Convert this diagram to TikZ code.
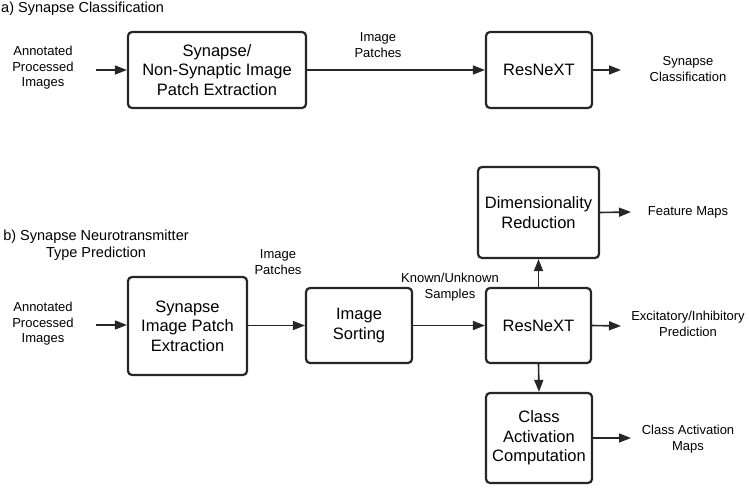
\documentclass[tikz,border=0pt]{standalone}
\usepackage{fontspec}
\setmainfont{Liberation Sans}
\usetikzlibrary{arrows.meta}
\tikzset{
  procbox/.style={draw=black!85, line width=2.2pt, rounded corners=4pt, align=center, inner sep=0pt,
    font=\fontsize{16.5}{19.5}\selectfont},
  lbl/.style={align=center, inner sep=0pt, font=\fontsize{13}{15.5}\selectfont},
  ttl/.style={align=center, inner sep=0pt, font=\fontsize{14.5}{16.5}\selectfont},
  flow/.style={draw=black!85, line width=1.6pt, -{Triangle[length=12pt,width=9pt]}}
}
\begin{document}
\begin{tikzpicture}[x=1pt,y=-1pt]
\useasboundingbox (0,0) rectangle (749,487);
% ---- a) ----
\node[ttl, anchor=west] (ta) at (1,9) {a) Synapse Classification};
\node[lbl] (ina) at (43,68) {Annotated\\Processed\\Images};
\coordinate (ina0) at (96,70);
\node[procbox, minimum width=178pt, minimum height=76pt] (a1) at (217,70) {Synapse/\\Non-Synaptic Image\\Patch Extraction};
\node[procbox, minimum width=106pt, minimum height=76pt] (a2) at (539,70) {ResNeXT};
\node[lbl] (pa) at (378,45) {Image\\Patches};
\coordinate (outa) at (621,70);
\node[lbl] (sca) at (688,69) {Synapse\\Classification};
\draw[flow] (ina0) -- (a1.west);
\draw[flow] (a1.east) -- (a2.west);
\draw[flow] (a2.east) -- (outa);
% ---- b) ----
\node[ttl] (tb) at (96,245) {b) Synapse Neurotransmitter\\Type Prediction};
\node[lbl] (inb) at (43,324) {Annotated\\Processed\\Images};
\coordinate (inb0) at (96,325);
\node[procbox, minimum width=119pt, minimum height=98pt] (b1) at (187.5,326) {Synapse\\Image Patch\\Extraction};
\node[procbox, minimum width=106pt, minimum height=75pt] (b2) at (359,325.5) {Image\\Sorting};
\node[procbox, minimum width=105pt, minimum height=75pt] (b3) at (538.5,325.5) {ResNeXT};
\node[procbox, minimum width=121pt, minimum height=91pt] (b4) at (538.5,212.5) {Dimensionality\\Reduction};
\node[procbox, minimum width=106pt, minimum height=90pt] (b5) at (539,438) {Class\\Activation\\Computation};
\node[lbl] (pb) at (278,262) {Image\\Patches};
\node[lbl] (kb) at (450,287) {Known/Unknown\\Samples};
\node[lbl] (fm) at (688,212) {Feature Maps};
\node[lbl] (ei) at (688,324) {Excitatory/Inhibitory\\Prediction};
\node[lbl] (cm) at (688,439) {Class Activation\\Maps};
\coordinate (fm0) at (631,212);
\coordinate (ei0) at (621,326);
\coordinate (cm0) at (631,438);
\draw[flow] (inb0) -- (inb0 -| b1.west);
\draw[flow] (b1.east |- b2.west) -- (b2.west);
\draw[flow] (b2.east) -- (b3.west);
\draw[flow] (b3.north) -- (b4.south);
\draw[flow] (b3.south) -- (b5.north);
\draw[flow] (b4.east) -- (fm0);
\draw[flow] (b3.east) -- (ei0);
\draw[flow] (b5.east) -- (cm0);
\end{tikzpicture}
\end{document}
